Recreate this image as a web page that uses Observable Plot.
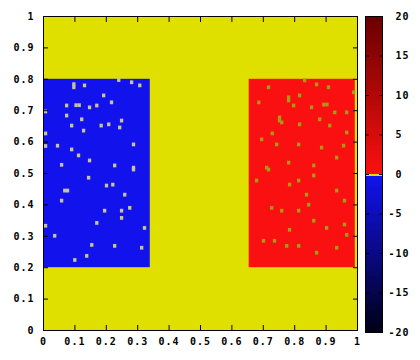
<!DOCTYPE html>
<html>
<head>
<meta charset="utf-8">
<script src="https://cdn.jsdelivr.net/npm/d3@7"></script>
<script src="https://cdn.jsdelivr.net/npm/@observablehq/plot@0.6"></script>
<style>
  html, body { margin: 0; padding: 0; background: #fff; }
  #wrap { position: relative; width: 420px; height: 360px; overflow: hidden; }
  #main { position: absolute; left: 0; top: 0; }
  #cbar { position: absolute; left: 360px; top: 0; }
</style>
</head>
<body>
<div id="wrap"><div id="main"></div><div id="cbar"></div></div>
<script>
// ---- data ----
const xTicks = [0, 0.1, 0.2, 0.3, 0.4, 0.5, 0.6, 0.7, 0.8, 0.9, 1];
const yTicks = [0, 0.1, 0.2, 0.3, 0.4, 0.5, 0.6, 0.7, 0.8, 0.9, 1];
const cbTicks = [-20, -15, -10, -5, 0, 5, 10, 15, 20];

// field regions (value 0 background, negative block, positive block)
const regionX1 = [0, 0, 0.655];
const regionX2 = [1, 0.34, 0.993];
const regionY1 = [0, 0.2, 0.2];
const regionY2 = [1, 0.8, 0.8];
const regionValue = [0, -0.3, 0.3];

// cells that stay near 0 inside the negative block
const blueSpeckX = [0.093, 0.093, 0.127, 0.07, 0.10, 0.11, 0.143, 0.166, 0.188, 0.213, 0.07, 0.086, 0.118, 0.124, 0.18, 0.204, 0.245, 0.239, 0.283, 0.041, 0.086, 0.108, 0.143, 0.283, 0.223, 0.054, 0.303, 0.277, 0.236,
  0.064, 0.073, 0.14, 0.197, 0.217, 0.245, 0.271, 0.191, 0.166, 0.245, 0.032, 0.223, 0.15, 0.096, 0.134, 0.283, 0.309, 0.054, 0.003, 0.318, 0.255, 0.003, 0.003, 0.003];
const blueSpeckY = [0.767, 0.777, 0.773, 0.709, 0.71, 0.71, 0.703, 0.709, 0.741, 0.719, 0.677, 0.645, 0.665, 0.629, 0.645, 0.649, 0.661, 0.639, 0.585, 0.581, 0.569, 0.55, 0.534, 0.511, 0.518, 0.52, 0.773, 0.783, 0.79,
  0.438, 0.438, 0.479, 0.454, 0.457, 0.374, 0.383, 0.374, 0.335, 0.351, 0.294, 0.262, 0.265, 0.217, 0.23, 0.505, 0.256, 0.406, 0.326, 0.319, 0.425, 0.62, 0.58, 0.69];

// cells that stay near 0 inside the positive block
const redSpeckX = [0.713, 0.748, 0.777, 0.812, 0.85, 0.889, 0.899, 0.904, 0.866, 0.924, 0.876, 0.812, 0.755, 0.793, 0.908, 0.962, 0.962, 0.691, 0.739, 0.809, 0.882, 0.952, 0.707, 0.777, 0.857, 0.93, 0.682, 0.984, 0.828,
  0.713, 0.78, 0.809, 0.857, 0.93, 0.723, 0.755, 0.809, 0.841, 0.955, 0.771, 0.809, 0.732, 0.866, 0.962, 0.697, 0.898, 0.857, 0.675, 0.93, 0.78, 0.834, 0.748, 0.777, 0.725, 0.955];
const redSpeckY = [0.767, 0.661, 0.735, 0.741, 0.703, 0.712, 0.712, 0.767, 0.776, 0.687, 0.665, 0.649, 0.655, 0.709, 0.645, 0.687, 0.623, 0.601, 0.585, 0.585, 0.575, 0.581, 0.511, 0.527, 0.518, 0.543, 0.719, 0.751, 0.789,
  0.505, 0.457, 0.47, 0.486, 0.438, 0.383, 0.374, 0.374, 0.393, 0.406, 0.262, 0.262, 0.278, 0.24, 0.297, 0.278, 0.319, 0.342, 0.47, 0.256, 0.313, 0.425, 0.671, 0.725, 0.62, 0.33];

// ---- tables ----
const regions = regionValue.map((v, i) => ({x1: regionX1[i], x2: regionX2[i], y1: regionY1[i], y2: regionY2[i], v}));
const blueSpecks = blueSpeckX.map((x, i) => ({x, y: blueSpeckY[i]}));
const redSpecks = redSpeckX.map((x, i) => ({x, y: redSpeckY[i]}));

const colorScale = {
  type: "linear",
  domain: [-20, -0.01, 0, 0.01, 20],
  range: ["#000014", "#1212f0", "#e0e000", "#fc1010", "#680000"]
};
const font = {fontFamily: "'DejaVu Sans Mono', monospace", fontWeight: "bold", fontSize: "10px", letterSpacing: "1px", background: "transparent", color: "#000"};
const fmt = d => String(+d.toFixed(1));
const cellW = 0.0105, cellH = 0.012;

const main = Plot.plot({
  width: 360, height: 360,
  marginLeft: 43, marginRight: 3, marginTop: 16, marginBottom: 30,
  style: font,
  x: {domain: [0, 1]},
  y: {domain: [0, 1]},
  color: colorScale,
  marks: [
    Plot.rect(regions, {x1: "x1", x2: "x2", y1: "y1", y2: "y2", fill: "v", inset: 0}),
    Plot.rect(blueSpecks, {x1: "x", x2: d => d.x + cellW, y1: "y", y2: d => d.y + cellH, inset: 0, fill: "#c8c39a"}),
    Plot.rect(redSpecks, {x1: "x", x2: d => d.x + cellW, y1: "y", y2: d => d.y + cellH, inset: 0, fill: "#a89a14"}),
    Plot.frame({stroke: "#000", strokeWidth: 1}),
    Plot.axisX(xTicks, {anchor: "bottom", tickSize: 5, dy: -5, tickFormat: () => "", label: null}),
    Plot.axisX(xTicks, {anchor: "top", tickSize: 5, dy: 5, tickFormat: () => "", label: null}),
    Plot.axisY(yTicks, {anchor: "left", tickSize: 5, dx: 5, tickFormat: () => "", label: null}),
    Plot.axisY(yTicks, {anchor: "right", tickSize: 5, dx: -5, tickFormat: () => "", label: null}),
    Plot.axisX(xTicks, {anchor: "bottom", tickSize: 0, tickPadding: 7, tickFormat: fmt, label: null}),
    Plot.axisY(yTicks, {anchor: "left", tickSize: 0, tickPadding: 9, tickFormat: fmt, label: null})
  ]
});
document.getElementById("main").appendChild(main);

// colour box
const levels = d3.range(-20, 20.0001, 0.25).map(v => ({v, y1: Math.max(-20, v - 0.2), y2: Math.min(20, v + 0.2)}));
const cb = Plot.plot({
  width: 60, height: 360,
  marginLeft: 5, marginRight: 38, marginTop: 16, marginBottom: 28,
  style: font,
  y: {domain: [-20, 20]},
  color: colorScale,
  marks: [
    Plot.rect(levels, {y1: "y1", y2: "y2", fill: "v", inset: 0, shapeRendering: "crispEdges"}),
    Plot.frame({stroke: "#000", strokeWidth: 1}),
    Plot.axisY(cbTicks, {anchor: "left", tickSize: 4, dx: 4, tickFormat: () => "", label: null}),
    Plot.axisY(cbTicks, {anchor: "right", tickSize: 4, dx: -4, tickFormat: () => "", label: null}),
    Plot.axisY(cbTicks, {anchor: "right", tickSize: 0, tickPadding: 6, textAnchor: "start", tickFormat: d => (d < 0 ? String(d) : "\u00a0" + d), label: null})
  ]
});
document.getElementById("cbar").appendChild(cb);
</script>
</body>
</html>
